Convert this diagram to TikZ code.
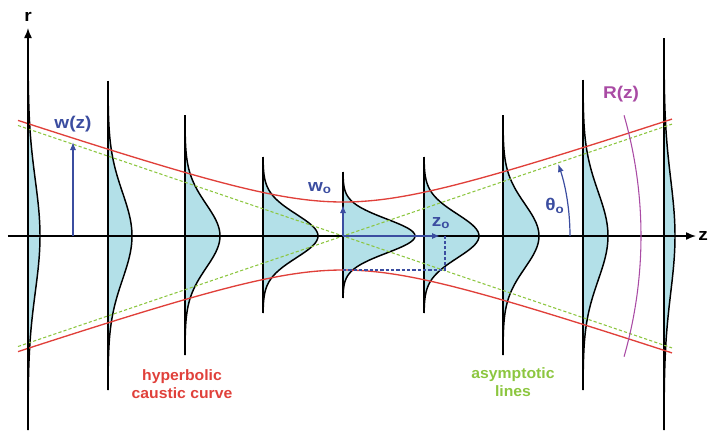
\documentclass[tikz,border=0pt]{standalone}
\usepackage{fontspec}
\setmainfont{Liberation Sans}
\usetikzlibrary{positioning,arrows.meta}
\definecolor{beamfill}{HTML}{B3E0E8}
\definecolor{causticred}{HTML}{E0403A}
\definecolor{asymgreen}{HTML}{8CC63F}
\definecolor{markblue}{HTML}{3B4DA0}
\definecolor{wavepurple}{HTML}{A94BA4}
% x position, w, peak, top half-height, bottom half-height
\newcommand{\gaussprofile}[5]{%
\fill[beamfill] (#1,-#5) -- plot[domain=-#5:#4, samples=90]
  ({#1+#3*exp(-2*(\x/#2)*(\x/#2))},\x) -- (#1,#4) -- cycle;
\draw[curve] plot[domain=-#5:#4, samples=90] ({#1+#3*exp(-2*(\x/#2)*(\x/#2))},\x);
\draw[curve] (#1,-#5) -- (#1,#4);
}

\begin{document}
\begin{tikzpicture}[
  x=0.75pt, y=0.75pt,
  curve/.style={black, line width=1.1pt},
  caustic/.style={causticred, line width=1pt},
  asym/.style={asymgreen, line width=0.8pt, dash pattern=on 2.4pt off 1.6pt},
  axis/.style={black, line width=1.1pt, -{Latex[length=7.5pt, width=6pt]}},
  blarr/.style={markblue, line width=0.9pt, -{Latex[length=6pt, width=4.5pt]}},
  lbl/.style={inner sep=0pt, xscale=1.12, font=\fontsize{12.75}{15}\selectfont\bfseries},
  note/.style={inner sep=0pt, xscale=1.05, align=center, font=\fontsize{11.25}{13.5}\selectfont\bfseries}
]
\useasboundingbox (-343,-197) rectangle (367,236);

\gaussprofile{-315}{112.4}{12}{200}{194}
\gaussprofile{-235}{86.8}{24}{155}{154}
\gaussprofile{-158}{63.6}{35}{121}{119}
\gaussprofile{-80}{43.5}{55}{79}{77}
\gaussprofile{0}{34}{72}{64}{62}
\gaussprofile{81}{43.8}{55}{79}{77}
\gaussprofile{160}{64.2}{36}{121}{119}
\gaussprofile{240}{88.4}{25}{156}{154}
\gaussprofile{321}{114.3}{11}{198}{194}

% asymptotes and caustic
\draw[asym] (-325,-110.5) -- (329,111.9);
\draw[asym] (-325,110.5) -- (329,-111.9);
\draw[caustic] plot[domain=-325:329, samples=120] (\x,{34*sqrt(1+(\x/100)*(\x/100))});
\draw[caustic] plot[domain=-325:329, samples=120] (\x,{-34*sqrt(1+(\x/100)*(\x/100))});

% axes
\coordinate (zstart) at (-335,0);
\coordinate (zend) at (353,0);
\coordinate (rstart) at (-315,-194);
\coordinate (rend) at (-315,208);
\draw[axis] (zstart) -- (zend);
\draw[axis] (rstart) -- (rend);
\node[lbl, above=5pt of rend] (rlabel) {r};
\node[lbl, right=1.5pt of zend] (zlabel) {z};

% beam radius, waist, Rayleigh range
\coordinate (waist) at (0,0);
\coordinate (wzfoot) at (-270,0);
\coordinate (wztip) at (-270,94);
\coordinate (wotip) at (0,31);
\coordinate (zotip) at (97,0);
\coordinate (wobottom) at (0,-34);
\coordinate (zocorner) at (102,-34);
\coordinate (zotop) at (102,0);
\draw[blarr] (wzfoot) -- (wztip);
\draw[blarr] (waist) -- (wotip);
\draw[blarr] (waist) -- (zotip);
\draw[markblue, line width=0.8pt, dash pattern=on 2.4pt off 1.6pt]
  (wobottom) -- (zocorner) -- (zotop);
\node[lbl, markblue, above=7pt of wztip] (wzlabel) {w(z)};
\node[lbl, markblue] (wolabel) at (-23,48) {w\textsubscript{o}};
\node[lbl, markblue] (zolabel) at (98,13) {z\textsubscript{o}};

% divergence angle and wavefront
\coordinate (thetafoot) at (227,0);
\draw[blarr] (thetafoot) arc[start angle=0, end angle=18.5, radius=227];
\node[lbl, markblue] (thetalabel) at (212,30) {θ\textsubscript{o}};
\coordinate (rzbottom) at ({-140+438*cos(16)},{-438*sin(16)});
\draw[wavepurple, line width=0.8pt] (rzbottom) arc[start angle=-16, end angle=16, radius=438];
\node[lbl, wavepurple] (rzlabel) at (278,142) {R(z)};

\node[note, causticred] (causticlabel) at (-161,-148) {hyperbolic\\caustic curve};
\node[note, asymgreen] (asymlabel) at (170,-146) {asymptotic\\lines};
\end{tikzpicture}
\end{document}
